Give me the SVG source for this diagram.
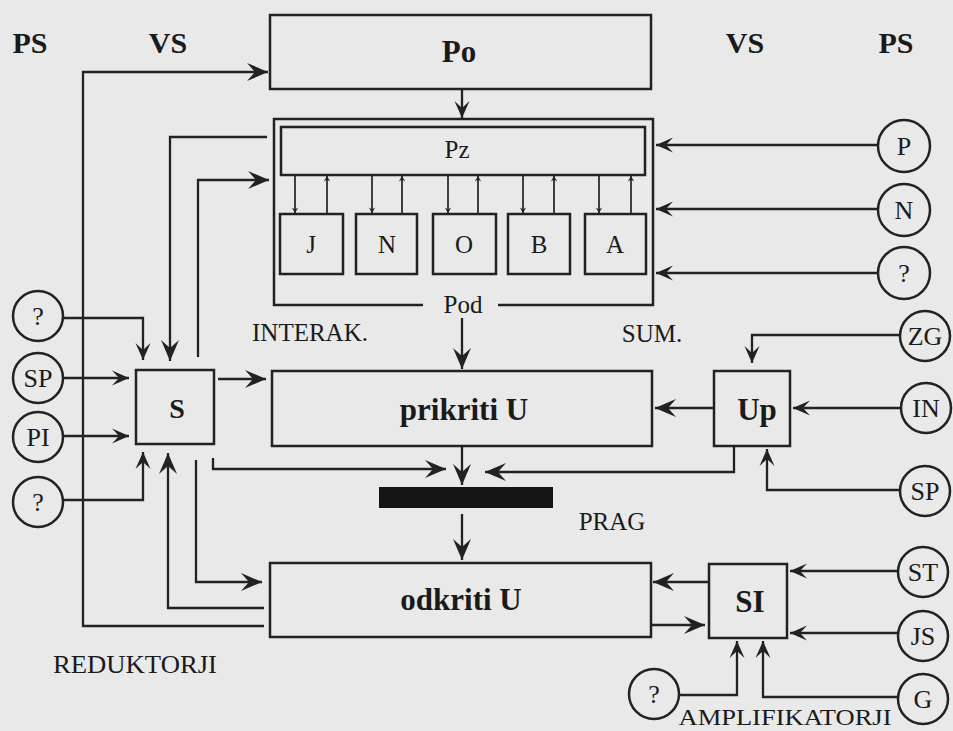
<svg xmlns="http://www.w3.org/2000/svg" width="953" height="731" viewBox="0 0 953 731">
<style>
.bg{fill:#e9e9e9}
.box{fill:none;stroke:#222;stroke-width:2.5}
.circ{fill:none;stroke:#222;stroke-width:2.5}
.ln{fill:none;stroke:#222;stroke-width:2.3}
.lns{fill:none;stroke:#222;stroke-width:1.7}
.tb{font-family:"Liberation Serif","Times New Roman",serif;font-weight:bold;fill:#1a1a1a;text-anchor:middle}
.tr{font-family:"Liberation Serif","Times New Roman",serif;fill:#1a1a1a;text-anchor:middle}
.tc{font-family:"Liberation Serif","Times New Roman",serif;fill:#1a1a1a;text-anchor:middle;font-size:26px}
.bar{fill:#141414}
</style>
<defs>
<marker id="ah" viewBox="-24 -12 26 24" refX="0" refY="0" markerWidth="26" markerHeight="24" markerUnits="userSpaceOnUse" orient="auto">
<path d="M0,0 L-21,-9 L-13,0 L-21,9 Z" fill="#222"/>
</marker>
<marker id="am" viewBox="-22 -10 24 20" refX="0" refY="0" markerWidth="24" markerHeight="20" markerUnits="userSpaceOnUse" orient="auto">
<path d="M0,0 L-17,-7.5 L-10,0 L-17,7.5 Z" fill="#222"/>
</marker>
<marker id="as" viewBox="-8 -5 9 10" refX="0" refY="0" markerWidth="9" markerHeight="10" markerUnits="userSpaceOnUse" orient="auto">
<path d="M0,0 L-5.5,-3.2 L-3.5,0 L-5.5,3.2 Z" fill="#222"/>
</marker>
</defs>
<rect class="bg" x="0" y="0" width="953" height="731"/>

<g id="headers">
<text class="tb" x="30" y="53" font-size="30">PS</text>
<text class="tb" x="168" y="53" font-size="30">VS</text>
<text class="tb" x="745" y="53" font-size="30">VS</text>
<text class="tb" x="896" y="53" font-size="30">PS</text>
</g>

<g id="labels">
<text class="tr" x="310" y="341" font-size="25">INTERAK.</text>
<text class="tr" x="652" y="342" font-size="25">SUM.</text>
<text class="tr" x="612" y="530" font-size="25">PRAG</text>
<text class="tr" x="135" y="673" font-size="25" textLength="164" lengthAdjust="spacingAndGlyphs">REDUKTORJI</text>
<text class="tr" x="785" y="725" font-size="24" textLength="213" lengthAdjust="spacingAndGlyphs">AMPLIFIKATORJI</text>
</g>

<g id="Po">
<rect class="box" x="270" y="15" width="381" height="74"/>
<text class="tb" x="459" y="62" font-size="31">Po</text>
</g>

<g id="Pod-frame">
<path class="box" d="M423,305 H274 V119 H653 V305 H498"/>
<text class="tr" x="463" y="313" font-size="25">Pod</text>
</g>

<g id="Pz">
<rect class="box" x="281" y="127" width="364" height="48"/>
<text class="tr" x="457" y="158" font-size="25">Pz</text>
</g>

<g id="J"><rect class="box" x="280" y="214" width="63" height="60"/><text class="tr" x="311" y="253" font-size="25">J</text></g>
<g id="N"><rect class="box" x="356" y="214" width="61" height="60"/><text class="tr" x="387" y="253" font-size="25">N</text></g>
<g id="O"><rect class="box" x="433" y="214" width="63" height="60"/><text class="tr" x="464" y="253" font-size="25">O</text></g>
<g id="B"><rect class="box" x="508" y="214" width="62" height="60"/><text class="tr" x="539" y="253" font-size="25">B</text></g>
<g id="A"><rect class="box" x="585" y="214" width="61" height="60"/><text class="tr" x="615" y="253" font-size="25">A</text></g>

<g id="S">
<rect class="box" x="136" y="370" width="78" height="74"/>
<text class="tb" x="177" y="418" font-size="28">S</text>
</g>

<g id="prikriti">
<rect class="box" x="272" y="371" width="380" height="75"/>
<text class="tb" x="464" y="420" font-size="31">prikriti U</text>
</g>

<g id="Up">
<rect class="box" x="714" y="371" width="76" height="75"/>
<text class="tb" x="757" y="420" font-size="31">Up</text>
</g>

<g id="PRAG-bar">
<rect class="bar" x="379" y="487" width="174" height="21"/>
</g>

<g id="odkriti">
<rect class="box" x="270" y="563" width="381" height="74"/>
<text class="tb" x="461" y="610" font-size="31">odkriti U</text>
</g>

<g id="SI">
<rect class="box" x="709" y="564" width="78" height="74"/>
<text class="tb" x="750" y="612" font-size="31">SI</text>
</g>

<g id="in-q1"><circle class="circ" cx="38" cy="316" r="25"/><text class="tc" x="38" y="325">?</text></g>
<g id="in-SP-left"><circle class="circ" cx="38" cy="378" r="25"/><text class="tc" x="38" y="387">SP</text></g>
<g id="in-PI"><circle class="circ" cx="38" cy="437" r="25"/><text class="tc" x="38" y="446">PI</text></g>
<g id="in-q2"><circle class="circ" cx="38" cy="502" r="25"/><text class="tc" x="38" y="511">?</text></g>

<g id="in-P"><circle class="circ" cx="904" cy="146" r="26"/><text class="tc" x="904" y="155">P</text></g>
<g id="in-N"><circle class="circ" cx="904" cy="210" r="26"/><text class="tc" x="904" y="219">N</text></g>
<g id="in-q3"><circle class="circ" cx="904" cy="273" r="26"/><text class="tc" x="904" y="282">?</text></g>
<g id="in-ZG"><circle class="circ" cx="925" cy="336" r="25"/><text class="tc" x="925" y="345">ZG</text></g>
<g id="in-IN"><circle class="circ" cx="926" cy="408" r="25"/><text class="tc" x="926" y="417">IN</text></g>
<g id="in-SP-right"><circle class="circ" cx="925" cy="491" r="25"/><text class="tc" x="925" y="500">SP</text></g>
<g id="in-ST"><circle class="circ" cx="923" cy="572" r="25"/><text class="tc" x="923" y="581">ST</text></g>
<g id="in-JS"><circle class="circ" cx="923" cy="636" r="25"/><text class="tc" x="923" y="645">JS</text></g>
<g id="in-G"><circle class="circ" cx="923" cy="699" r="25"/><text class="tc" x="923" y="708">G</text></g>
<g id="in-q4"><circle class="circ" cx="654" cy="694" r="25"/><text class="tc" x="654" y="703">?</text></g>

<g id="connectors">
<path class="ln" d="M264,626 H83 V72 H268" marker-end="url(#ah)"/>
<path class="ln" d="M264,608 H168 V453" marker-end="url(#ah)"/>
<path class="ln" d="M267,137 H170 V361" marker-end="url(#ah)"/>
<path class="ln" d="M198,357 V180 H269" marker-end="url(#ah)"/>
<path class="ln" d="M196,460 V582 H262" marker-end="url(#ah)"/>
<path class="ln" d="M213,458 V469 H446" marker-end="url(#ah)"/>
<path class="ln" d="M734,446 V472 H485" marker-end="url(#ah)"/>
<path class="ln" d="M462,446 V485" marker-end="url(#ah)"/>
<path class="ln" d="M462,514 V560" marker-end="url(#ah)"/>
<path class="ln" d="M462,89 V118" marker-end="url(#am)"/>
<path class="ln" d="M462,318 V369" marker-end="url(#ah)"/>
<path class="ln" d="M218,379 H266" marker-end="url(#ah)"/>
<path class="ln" d="M714,408 H655" marker-end="url(#ah)"/>
<path class="ln" d="M900,335 H752 V363" marker-end="url(#am)"/>
<path class="ln" d="M901,408 H793" marker-end="url(#am)"/>
<path class="ln" d="M900,490 H767 V449" marker-end="url(#am)"/>
<path class="ln" d="M878,145 H656" marker-end="url(#am)"/>
<path class="ln" d="M878,209 H656" marker-end="url(#am)"/>
<path class="ln" d="M878,273 H656" marker-end="url(#am)"/>
<path class="ln" d="M898,571 H790" marker-end="url(#am)"/>
<path class="ln" d="M898,633 H790" marker-end="url(#am)"/>
<path class="ln" d="M898,697 H763 V641" marker-end="url(#am)"/>
<path class="ln" d="M679,695 H737 V641" marker-end="url(#am)"/>
<path class="ln" d="M709,582 H653" marker-end="url(#ah)"/>
<path class="ln" d="M651,625 H705" marker-end="url(#ah)"/>
<path class="ln" d="M63,318 H143 V360" marker-end="url(#am)"/>
<path class="ln" d="M63,378 H129" marker-end="url(#am)"/>
<path class="ln" d="M63,436 H129" marker-end="url(#am)"/>
<path class="ln" d="M63,500 H143 V452" marker-end="url(#am)"/>
<g id="pz-links">
<path class="lns" d="M295,176 V213" marker-end="url(#as)"/>
<path class="lns" d="M327,213 V176" marker-end="url(#as)"/>
<path class="lns" d="M372,176 V213" marker-end="url(#as)"/>
<path class="lns" d="M402,213 V176" marker-end="url(#as)"/>
<path class="lns" d="M448,176 V213" marker-end="url(#as)"/>
<path class="lns" d="M478,213 V176" marker-end="url(#as)"/>
<path class="lns" d="M523,176 V213" marker-end="url(#as)"/>
<path class="lns" d="M554,213 V176" marker-end="url(#as)"/>
<path class="lns" d="M599,176 V213" marker-end="url(#as)"/>
<path class="lns" d="M631,213 V176" marker-end="url(#as)"/>
</g>
</g>
</svg>
